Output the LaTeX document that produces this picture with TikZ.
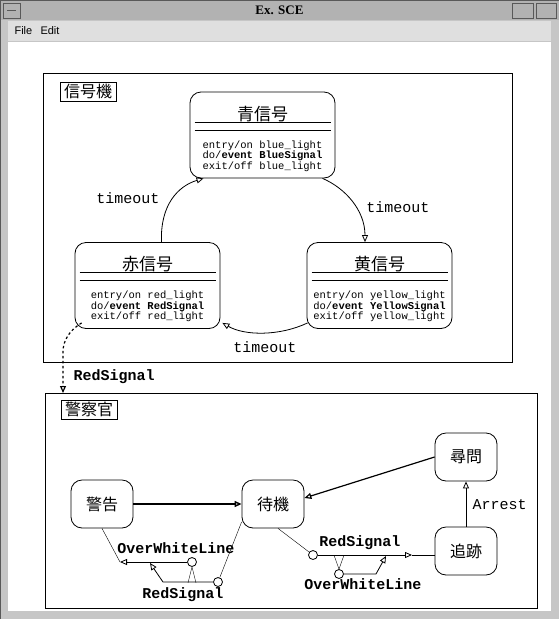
\documentclass[tikz,border=0pt]{standalone}
\usepackage{fontspec}
\setmainfont{Liberation Serif}
\setsansfont{Liberation Sans}
\setmonofont{Liberation Mono}
\newfontfamily\jfont{Noto Sans CJK JP}
\usetikzlibrary{arrows.meta}

\tikzset{
  panel/.style={draw, line width=0.8pt, inner sep=0pt, anchor=north west},
  tag/.style={draw, inner xsep=4pt, inner ysep=2pt, anchor=north west, font=\jfont\fontsize{16}{16}\selectfont},
  signal/.style={draw, rounded corners=11pt, minimum width=145pt, minimum height=86pt, line width=0.8pt},
  officer/.style={draw, rounded corners=11pt, minimum width=62pt, minimum height=48pt, line width=0.8pt, font=\jfont\fontsize{16}{16}\selectfont},
  trans/.style={-{Triangle[open,length=7pt,width=6pt]}, line width=0.8pt},
  evt/.style={font=\ttfamily\fontsize{15}{15}\selectfont},
  bevt/.style={font=\ttfamily\bfseries\fontsize{15}{15}\selectfont},
  junction/.style={circle, draw, fill=white, inner sep=0pt, minimum size=9pt, line width=0.8pt},
}

\begin{document}
\begin{tikzpicture}[x=1pt,y=-1pt]
  \useasboundingbox (0,0) rectangle (559,619);
  % window frame
  \fill[gray!45] (0,0) rectangle (559,619);
  \fill[gray!60] (0,0) rectangle (559,20);
  \fill[gray!25] (8,21) rectangle (551,41);
  \fill[white] (8,42) rectangle (551,611);
  \draw[gray!70!black] (0,0) rectangle (559,619);
  \draw[gray!70!black] (3,3) rectangle (20,18) (7,10) -- (16,10);
  \draw[gray!70!black] (512,3) rectangle (533,18) (536,3) rectangle (556,18);
  \node[font=\bfseries\fontsize{13}{13}\selectfont] (title) at (279.5,10) {Ex. SCE};
  \node[font=\sffamily\fontsize{11}{11}\selectfont, anchor=west] (menu-file) at (11,31) {File};
  \node[font=\sffamily\fontsize{11}{11}\selectfont, anchor=west] (menu-edit) at (37,31) {Edit};

  % signal machine
  \node[panel, minimum width=469pt, minimum height=289pt] (machine) at (43,73) {};
  \node[tag] (machine-tag) at (60,82) {信号機};
  \foreach \n/\x/\y/\t/\l/\e in {ao/262.5/135/青信号/blue/BlueSignal,
                                 aka/147.5/285.5/赤信号/red/RedSignal,
                                 ki/379.5/285.5/黄信号/yellow/YellowSignal} {
    \node[signal] (\n) at (\x,\y) {};
    \node[font=\jfont\fontsize{17}{17}\selectfont] (\n-title) at (\x,\y-21) {\t};
    \draw (\x-68,\y-13) -- (\x+68,\y-13);
    \draw (\x-68,\y-5) -- (\x+68,\y-5);
    \node[font=\ttfamily\fontsize{10.5}{10.5}\selectfont, align=left] (\n-text) at (\x,\y+21)
      {entry/on \l\_light\\do/\textbf{event \e}\\exit/off \l\_light};
  }
  \draw[trans] ([xshift=14pt]aka.north) .. controls (160,205) and (178,186) .. ([xshift=-59pt]ao.south);
  \draw[trans] ([xshift=60pt]ao.south) .. controls (345,188) and (365,210) .. ([xshift=-14.5pt]ki.north);
  \draw[trans] ([shift={(1pt,6pt)}]ki.south west) .. controls (280,336) and (245,336) .. ([shift={(2pt,6pt)}]aka.south east);
  \node[evt] (timeout-left) at (128,198) {timeout};
  \node[evt] (timeout-right) at (398,207) {timeout};
  \node[evt] (timeout-bottom) at (265,347) {timeout};

  % police officer
  \node[panel, minimum width=492pt, minimum height=215pt] (police) at (45,393) {};
  \node[tag] (police-tag) at (61,400) {警察官};
  \draw[trans, line width=1.2pt, dash pattern=on 2.5pt off 2.5pt]
    ([shift={(7pt,6pt)}]aka.south west) .. controls (70,330) and (63,340) .. (63,352) -- ([xshift=18pt]police.north west);
  \node[bevt, anchor=west] (redsignal-top) at (70,377) {RedSignal};

  \node[officer] (keikoku) at (102,504) {警告};
  \node[officer] (taiki) at (273,504) {待機};
  \node[officer] (jinmon) at (466,457) {尋問};
  \node[officer] (tsuiseki) at (466,551) {追跡};
  \draw[trans, line width=1.4pt] (keikoku) -- (taiki);
  \draw[trans, line width=1.2pt] (jinmon.west) -- ([yshift=6pt]taiki.east);
  \draw[trans] (tsuiseki) -- (jinmon);
  \node[evt, anchor=west] (arrest) at (469,505) {Arrest};

  % compound transitions
  \node[junction] (j1) at (192,562) {};
  \node[junction] (j2) at (218,582) {};
  \node[junction] (j3) at (313,555) {};
  \node[junction] (j4) at (339,574) {};
  \coordinate (w1) at (120,562);
  \coordinate (w2) at (163,582);
  \coordinate (w3) at (150,563);
  \coordinate (r1) at (412,555);
  \coordinate (r2) at (376,574);
  \coordinate (r3) at (386,556);

  \draw (j2) -- ([yshift=-18pt]taiki.west);
  \draw[trans] (j2) -- (w2) -- (w3);
  \draw[trans] (j1) -- (w1);
  \draw (w1) -- (keikoku.south);
  \draw (j1.south) -- ++(-4,16) (j1.south) -- ++(4,16);
  \node[bevt] (overwhite-left) at (176,548) {OverWhiteLine};
  \node[bevt] (redsignal-left) at (183,595) {RedSignal};

  \draw ([xshift=5pt]taiki.south) -- (j3);
  \draw[trans] (j3) -- (r1);
  \draw (r1) -- ([yshift=-4pt]tsuiseki.west);
  \draw (j4.north) -- ++(-5,-14) (j4.north) -- ++(5,-14);
  \draw[trans] (j4) -- (r2) -- (r3);
  \node[bevt] (redsignal-right) at (360,543) {RedSignal};
  \node[bevt] (overwhite-right) at (363,584) {OverWhiteLine};
\end{tikzpicture}
\end{document}
